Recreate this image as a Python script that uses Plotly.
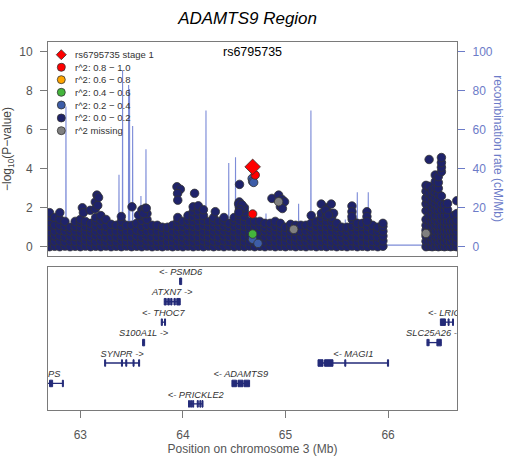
import plotly.graph_objects as go

# ---------------- data ----------------
title_text = "ADAMTS9 Region"
lead_snp = "rs6795735"
lead_pos = 64.68
lead_logp = 4.1

# recombination rate (cM/Mb)
rec_pos = [62.685, 62.75, 62.80, 62.858, 62.860, 62.862, 62.95, 63.05, 63.15, 63.25,
           63.375, 63.377, 63.379, 63.410, 63.412, 63.414, 63.469, 63.471, 63.474,
           63.478, 63.480, 63.482, 63.508, 63.510, 63.512, 63.589, 63.591, 63.593,
           63.638, 63.640, 63.642, 63.75, 63.90, 64.05, 64.15, 64.223, 64.225, 64.227,
           64.35, 64.445, 64.447, 64.449, 64.511, 64.513, 64.515, 64.611, 64.613, 64.615,
           64.70, 64.808, 64.810, 64.812, 64.95, 65.05, 65.126, 65.128, 65.130, 65.246,
           65.248, 65.250, 65.40, 65.50, 65.581, 65.583, 65.585, 65.629, 65.631, 65.633,
           65.698, 65.700, 65.702, 65.805, 65.807, 65.809, 65.95, 66.0, 66.36, 66.40,
           66.50, 66.60, 66.672]
rec_rate = [1.5, 2.0, 1.2, 1.0, 72, 1.0, 2.5, 1.5, 2.0, 1.0,
            1.5, 37, 1.5, 1.5, 90.6, 2, 2, 83, 2,
            2, 81, 2, 2, 62, 2, 1.5, 26, 1.5,
            1.5, 50, 1.5, 2, 1.5, 2.5, 1.5, 1.5, 70, 1.5,
            2, 2, 43, 2, 2, 46, 2, 2, 22, 2,
            1, 1.5, 17, 1.5, 2, 1.5, 1.5, 22, 1.5, 1.5,
            70, 1.5, 2, 1, 1.5, 14, 1.5, 1.5, 21, 1.5,
            1.5, 28, 1.5, 1.5, 28, 1.5, 1.0, 0.8, 0.8, 3,
            5, 10, 8]

# SNPs with r^2 0.0-0.2, listed column by column (position in Mb, -log10 P values)
bg_cols = [62.70, 62.75, 62.80, 62.85, 62.90, 62.95, 63.00, 63.05, 63.10, 63.15,
           63.20, 63.25, 63.30, 63.35, 63.40, 63.45, 63.50, 63.55, 63.60, 63.65,
           63.70, 63.75, 63.80, 63.85, 63.90, 63.95, 64.00, 64.05, 64.10, 64.15,
           64.20, 64.25, 64.30, 64.35, 64.40, 64.45, 64.50, 64.55, 64.60, 64.65,
           64.70, 64.75, 64.80, 64.85, 64.90, 64.95, 65.00, 65.05, 65.10, 65.15,
           65.20, 65.25, 65.30, 65.35, 65.40, 65.45, 65.50, 65.55, 65.60, 65.65,
           65.70, 65.75, 65.80, 65.85, 65.90, 65.95,
           66.37, 66.40, 66.43, 66.46, 66.49, 66.52, 66.55, 66.58, 66.61, 66.64, 66.67]
bg_vals = [
    [0.0, 0.25, 0.5, 0.78, 1.05, 1.3, 1.55, 1.75],
    [0.02, 0.28, 0.55, 0.8, 1.1, 1.5],
    [0.0, 0.3, 0.55, 0.85, 1.1, 1.4, 1.75],
    [0.03, 0.25, 0.5, 0.8, 1.05, 1.3],
    [0.0, 0.3, 0.55, 0.8, 1.0],
    [0.02, 0.27, 0.52, 0.8, 1.05, 1.3],
    [0.0, 0.25, 0.5, 0.75, 1.0, 1.25, 1.4],
    [0.03, 0.3, 0.55, 0.8, 1.05, 1.3],
    [0.0, 0.25, 0.5, 0.75, 0.98, 1.2],
    [0.02, 0.27, 0.55, 0.8, 1.05, 1.3, 1.5],
    [0.0, 0.3, 0.55, 0.8, 1.1, 1.35, 1.6],
    [0.03, 0.25, 0.5, 0.78, 1.05, 1.4],
    [0.0, 0.28, 0.52, 0.8, 1.15],
    [0.02, 0.25, 0.5, 0.8, 1.1],
    [0.0, 0.3, 0.55, 0.8, 1.05, 1.3],
    [0.03, 0.27, 0.52, 0.8, 1.1],
    [0.0, 0.25, 0.5, 0.78, 1.1],
    [0.02, 0.28, 0.55, 0.85, 1.2],
    [0.0, 0.25, 0.5, 0.78, 1.05, 1.35, 1.6],
    [0.03, 0.3, 0.55, 0.8, 1.1, 1.4, 1.7],
    [0.0, 0.25, 0.5, 0.8, 1.1],
    [0.02, 0.27, 0.52, 0.8, 1.1],
    [0.0, 0.25, 0.5, 0.75, 1.0],
    [0.03, 0.28, 0.55, 0.8, 1.0],
    [0.0, 0.25, 0.5, 0.8, 1.1],
    [0.02, 0.3, 0.55, 0.8, 1.05, 1.3, 1.5],
    [0.0, 0.25, 0.5, 0.78, 1.05, 1.3],
    [0.03, 0.28, 0.55, 0.8, 1.1, 1.35, 1.6],
    [0.0, 0.25, 0.5, 0.8, 1.05, 1.3, 1.55, 1.8, 2.05],
    [0.02, 0.27, 0.52, 0.8, 1.05, 1.35, 1.6, 1.85, 2.1],
    [0.0, 0.3, 0.55, 0.8, 1.1, 1.35, 1.6, 1.9],
    [0.03, 0.25, 0.5, 0.78, 1.05, 1.3],
    [0.0, 0.28, 0.55, 0.8, 1.05, 1.3, 1.5],
    [0.02, 0.25, 0.5, 0.8, 1.05, 1.3],
    [0.0, 0.3, 0.55, 0.8, 1.05, 1.3, 1.5],
    [0.03, 0.27, 0.52, 0.78, 1.0, 1.2],
    [0.0, 0.25, 0.5, 0.8, 1.05, 1.3, 1.5],
    [0.02, 0.3, 0.55, 0.8, 1.1, 1.35, 1.6, 1.85, 2.05, 2.3],
    [0.0, 0.25, 0.5, 0.8, 1.05, 1.3, 1.55, 1.8, 2.0],
    [0.03, 0.28, 0.55, 0.8, 1.05, 1.3],
    [0.0, 0.25, 0.5, 0.78, 1.05, 1.3],
    [0.02, 0.3, 0.55, 0.8, 1.05, 1.3],
    [0.0, 0.25, 0.5, 0.8, 1.0, 1.2],
    [0.03, 0.27, 0.52, 0.78, 1.0, 1.2],
    [0.0, 0.25, 0.5, 0.8, 1.05, 1.3],
    [0.02, 0.28, 0.55, 0.8, 1.0, 1.2],
    [0.0, 0.25, 0.5, 0.75, 1.0],
    [0.03, 0.3, 0.55, 0.8, 1.0, 1.15],
    [0.0, 0.25, 0.5, 0.78, 1.1],
    [0.02, 0.27, 0.52, 0.8, 1.1],
    [0.0, 0.25, 0.5, 0.8, 1.1],
    [0.03, 0.3, 0.55, 0.8, 1.0, 1.2],
    [0.0, 0.25, 0.5, 0.8, 1.05, 1.3],
    [0.02, 0.27, 0.52, 0.8, 1.05, 1.3, 1.5, 1.7],
    [0.0, 0.3, 0.55, 0.8, 1.05, 1.3, 1.55, 1.8, 2.0],
    [0.03, 0.25, 0.5, 0.78, 1.05, 1.3, 1.5, 1.7],
    [0.0, 0.28, 0.55, 0.8, 1.0, 1.2],
    [0.02, 0.25, 0.5, 0.75, 1.0],
    [0.0, 0.27, 0.52, 0.78, 1.0],
    [0.03, 0.3, 0.55, 0.8, 1.05, 1.4],
    [0.0, 0.25, 0.5, 0.8, 1.05, 1.2],
    [0.02, 0.28, 0.55, 0.8, 1.05, 1.2],
    [0.0, 0.25, 0.5, 0.8, 1.05, 1.3],
    [0.03, 0.27, 0.52, 0.8, 1.1],
    [0.0, 0.25, 0.5, 0.78, 1.0],
    [0.02, 0.3, 0.55, 0.8, 1.05, 1.2],
    [0.0, 0.28, 0.55, 0.85, 1.1, 1.4, 1.85, 2.2, 2.5, 2.85, 3.15],
    [0.02, 0.3, 0.55, 0.8, 1.05, 1.35, 1.6, 1.9, 2.2, 2.45, 2.75, 3.1, 4.48],
    [0.0, 0.25, 0.5, 0.8, 1.05, 1.3, 1.55, 1.8, 2.05, 2.3, 2.6, 2.9],
    [0.02, 0.3, 0.55, 0.8, 1.1, 1.35, 1.6, 1.9, 2.2, 2.5, 2.8, 3.05, 3.35, 3.68],
    [0.0, 0.25, 0.5, 0.8, 1.05, 1.3, 1.55, 1.85, 2.1, 2.4, 2.7, 3.0, 3.3, 3.6],
    [0.02, 0.3, 0.55, 0.8, 1.05, 1.35, 1.6, 1.9, 2.2, 2.6, 3.85, 4.08, 4.32, 4.58],
    [0.0, 0.25, 0.5, 0.8, 1.05, 1.3, 1.6, 1.9, 2.16],
    [0.02, 0.3, 0.55, 0.8, 1.05, 1.3, 1.6, 1.9, 2.22],
    [0.0, 0.25, 0.5, 0.8, 1.05, 1.3],
    [0.02, 0.3, 0.55, 0.8, 1.05, 1.3, 1.6],
    [0.0, 0.25, 0.5, 0.8, 1.05, 1.35, 1.7, 2.36],
]
# isolated higher r^2 0.0-0.2 SNPs
peak_pos = [63.02, 63.03, 63.097, 63.146, 63.146, 63.162, 63.178, 63.17, 63.40, 63.504,
            63.568, 63.60, 63.633, 63.615, 63.643, 63.942, 63.975, 63.948, 63.95,
            64.114, 64.316, 64.552, 64.543, 64.576, 64.56, 64.545, 64.868, 64.933,
            64.966, 64.991, 64.95, 64.97, 65.251, 65.349, 65.446, 65.388, 65.469,
            65.42, 65.648, 65.648, 65.648, 65.794, 65.794, 65.794]
peak_logp = [2.0, 1.75, 1.87, 2.3, 1.95, 2.65, 2.53, 2.12, 1.55, 2.05,
             1.62, 1.9, 1.98, 1.7, 1.97, 3.08, 2.95, 2.73, 2.39,
             2.74, 1.8, 3.2, 2.2, 2.15, 1.9, 1.75, 2.48, 2.65,
             2.43, 2.31, 2.05, 1.96, 1.6, 2.19, 2.19, 1.88, 1.72,
             1.63, 2.09, 1.8, 1.55, 1.8, 1.55, 1.3]

missing_pos = [64.933, 65.08, 66.37]
missing_logp = [2.31, 0.89, 0.68]
r2_02_pos = [64.675, 64.68, 64.69, 64.68, 64.732]
r2_02_logp = [3.5, 3.35, 3.3, 0.38, 0.17]
r2_04_pos = [64.68]
r2_04_logp = [0.65]
r2_08_pos = [64.705, 64.68]
r2_08_logp = [3.68, 1.68]

# genes: name, start, end, strand, row, exons
gene_names = ["PSMD6", "ATXN7", "THOC7", "S100A1L", "SYNPR", "CADPS", "ADAMTS9",
              "PRICKLE2", "MAGI1", "SLC25A26", "LRIG1"]
gene_start = [63.968, 63.818, 63.789, 63.607, 63.237, 62.355, 64.478, 64.055, 65.317, 66.379, 66.51]
gene_end = [63.988, 63.974, 63.831, 63.627, 63.578, 62.835, 64.65, 64.196, 66.005, 66.519, 66.64]
gene_strand = ["-", "+", "-", "+", "+", "-", "-", "-", "-", "+", "-"]
gene_row = [1, 2, 3, 4, 5, 6, 6, 7, 5, 4, 3]
gene_exons = [
    [(63.968, 63.988)],
    [(63.818, 63.838), (63.852, 63.868), (63.881, 63.894), (63.913, 63.926), (63.94, 63.974)],
    [(63.789, 63.80), (63.821, 63.831)],
    [(63.607, 63.627)],
    [(63.237, 63.247), (63.401, 63.411), (63.443, 63.453), (63.514, 63.524), (63.568, 63.578)],
    [(62.70, 62.73), (62.825, 62.835)],
    [(64.478, 64.523), (64.537, 64.586), (64.596, 64.65)],
    [(64.055, 64.065), (64.075, 64.085), (64.095, 64.105), (64.14, 64.15), (64.165, 64.175), (64.186, 64.196)],
    [(65.317, 65.366), (65.381, 65.463), (65.578, 65.588), (65.994, 66.005)],
    [(66.379, 66.386), (66.393, 66.400), (66.476, 66.519)],
    [(66.51, 66.559), (66.585, 66.595), (66.628, 66.638)],
]

legend_labels = ["rs6795735 stage 1", "r^2: 0.8 \u2212 1.0", "r^2: 0.6 \u2212 0.8",
                 "r^2: 0.4 \u2212 0.6", "r^2: 0.2 \u2212 0.4", "r^2: 0.0 \u2212 0.2", "r^2 missing"]

# ---------------- styling ----------------
FONT = "Liberation Sans, Arial, Helvetica, sans-serif"
GRAY = "#7a7a7a"
TXT = "#555555"
BLUE = "#6c7bc8"
REC_LINE = "#7d8cd8"
NAVY = "#1f236a"
C_02 = "#3d5da8"
C_04 = "#44b53c"
C_06 = "#ffa500"
C_08 = "#ff0000"
C_MISS = "#808080"
OUTLINE = "#333333"
GENE = "#232a78"
XR = [62.685, 66.672]

fig = go.Figure()

# recombination line (base axis y, drawn underneath)
fig.add_trace(go.Scatter(x=rec_pos, y=rec_rate, mode="lines", xaxis="x", yaxis="y",
                         line=dict(color=REC_LINE, width=1.1), hoverinfo="skip"))

bx, by = [], []
for c, vals in zip(bg_cols, bg_vals):
    for v in vals:
        bx.append(c)
        by.append(v)
bx += peak_pos
by += peak_logp


def pts(x, y, color, size=8.5, symbol="circle"):
    return go.Scatter(x=x, y=y, mode="markers", xaxis="x", yaxis="y2",
                      marker=dict(color=color, size=size, symbol=symbol,
                                  line=dict(color=OUTLINE, width=0.8)),
                      hoverinfo="skip")


fig.add_trace(pts(bx, by, NAVY))
fig.add_trace(pts(missing_pos, missing_logp, C_MISS))
fig.add_trace(pts(r2_02_pos, r2_02_logp, C_02))
fig.add_trace(pts(r2_04_pos, r2_04_logp, C_04))
fig.add_trace(pts(r2_08_pos, r2_08_logp, C_08))
fig.add_trace(pts([lead_pos], [lead_logp], C_08, size=12, symbol="diamond"))

# genes
for name, s, e, strand, row, exons in zip(gene_names, gene_start, gene_end, gene_strand,
                                            gene_row, gene_exons):
    y0 = -row
    fig.add_trace(go.Scatter(x=[s, e], y=[y0, y0], mode="lines", xaxis="x2", yaxis="y3",
                             line=dict(color=GENE, width=1.3), hoverinfo="skip"))
    ex, ey = [], []
    for a, b in exons:
        ex += [a, b, b, a, a, None]
        ey += [y0 - 0.16, y0 - 0.16, y0 + 0.16, y0 + 0.16, y0 - 0.16, None]
    fig.add_trace(go.Scatter(x=ex, y=ey, mode="lines", fill="toself", fillcolor=GENE,
                             xaxis="x2", yaxis="y3", line=dict(color=GENE, width=1),
                             hoverinfo="skip"))
    label = ("<- " + name) if strand == "-" else (name + " ->")
    fig.add_trace(go.Scatter(x=[(s + e) / 2], y=[y0 + 0.42], mode="text",
                             text=["<i>" + label + "</i>"], xaxis="x2", yaxis="y3",
                             textfont=dict(family=FONT, size=9.3, color="#333333"),
                             textposition="middle center", hoverinfo="skip"))

# legend drawn manually
shapes = []
annotations = []
leg_x = 0.0325
leg_y = [0.9655, 0.9312, 0.8976, 0.8633, 0.8288, 0.7935, 0.7590]
leg_colors = [C_08, C_08, C_06, C_04, C_02, NAVY, C_MISS]
for i, (yy, col, lab) in enumerate(zip(leg_y, leg_colors, legend_labels)):
    if i == 0:
        shapes.append(dict(type="path", xref="paper", yref="paper", xsizemode="pixel",
                           ysizemode="pixel", xanchor=leg_x, yanchor=yy,
                           path="M -5 0 L 0 5 L 5 0 L 0 -5 Z", fillcolor=col,
                           line=dict(color=OUTLINE, width=0.8)))
    else:
        shapes.append(dict(type="circle", xref="paper", yref="paper", xsizemode="pixel",
                           ysizemode="pixel", xanchor=leg_x, yanchor=yy,
                           x0=-4, x1=4, y0=-4, y1=4, fillcolor=col,
                           line=dict(color=OUTLINE, width=0.8)))
    annotations.append(dict(x=0.0604, y=yy, xref="paper", yref="paper", text=lab,
                            showarrow=False, xanchor="left", yanchor="middle",
                            font=dict(family=FONT, size=9.5, color="#333333")))

annotations.append(dict(x=lead_pos, y=10.0, xref="x", yref="y2", text=lead_snp,
                        showarrow=False, xanchor="center", yanchor="middle",
                        font=dict(family=FONT, size=12.5, color="#000000")))
annotations.append(dict(x=1.100, y=0.709, xref="paper", yref="paper",
                        text="recombination rate (cM/Mb)", textangle=90, showarrow=False,
                        xanchor="center", yanchor="middle",
                        font=dict(family=FONT, size=12, color=BLUE)))

top_dom = [0.4185, 1.0]
bot_dom = [0.0, 0.3886]

fig.update_layout(
    width=516, height=461,
    margin=dict(l=48, r=59, t=42, b=51, autoexpand=False),
    paper_bgcolor="white", plot_bgcolor="white",
    showlegend=False,
    font=dict(family=FONT, color=TXT),
    title=dict(text="<i>" + title_text + "</i>", x=0.488, xref="paper", y=0.961,
               yref="container", xanchor="center", yanchor="middle",
               font=dict(family=FONT, size=17, color="#000000"), automargin=False),
    xaxis=dict(domain=[0, 1], anchor="y", range=XR, showticklabels=False, ticks="",
               showgrid=False, zeroline=False, showline=True, mirror=True,
               linecolor=GRAY, linewidth=1.2, automargin=False),
    yaxis=dict(domain=top_dom, anchor="x", side="right", range=[-4.77, 105.13],
               tickvals=[0, 20, 40, 60, 80, 100], ticks="outside", ticklen=7,
               tickcolor=BLUE, tickfont=dict(size=12, color=BLUE), ticklabelstandoff=5,
               showgrid=False, zeroline=False, showline=True, mirror=True,
               linecolor=GRAY, linewidth=1.2, automargin=False),
    yaxis2=dict(overlaying="y", anchor="x", side="left", range=[-0.477, 10.513],
                tickvals=[0, 2, 4, 6, 8, 10], ticks="outside", ticklen=7,
                tickcolor=GRAY, tickfont=dict(size=12, color=TXT), ticklabelstandoff=5,
                showgrid=False, zeroline=False, showline=False, automargin=False,
                title=dict(text="\u2212log<sub>10</sub>(P\u2212value)",
                           font=dict(size=12, color="#444444"), standoff=6)),
    xaxis2=dict(domain=[0, 1], anchor="y3", range=XR, tickvals=[63, 64, 65, 66],
                ticks="outside", ticklen=7, tickcolor=GRAY, tickfont=dict(size=12, color=TXT),
                ticklabelstandoff=6, showgrid=False, zeroline=False, showline=True,
                mirror=True, linecolor=GRAY, linewidth=1.2, automargin=False,
                title=dict(text="Position on chromosome 3 (Mb)",
                           font=dict(size=12, color=TXT), standoff=4)),
    yaxis3=dict(domain=bot_dom, anchor="x2", range=[-7.3, -0.3], showticklabels=False,
                ticks="", showgrid=False, zeroline=False, showline=True, mirror=True,
                linecolor=GRAY, linewidth=1.2, automargin=False),
    shapes=shapes,
    annotations=annotations,
)

fig.write_html("out.html")
